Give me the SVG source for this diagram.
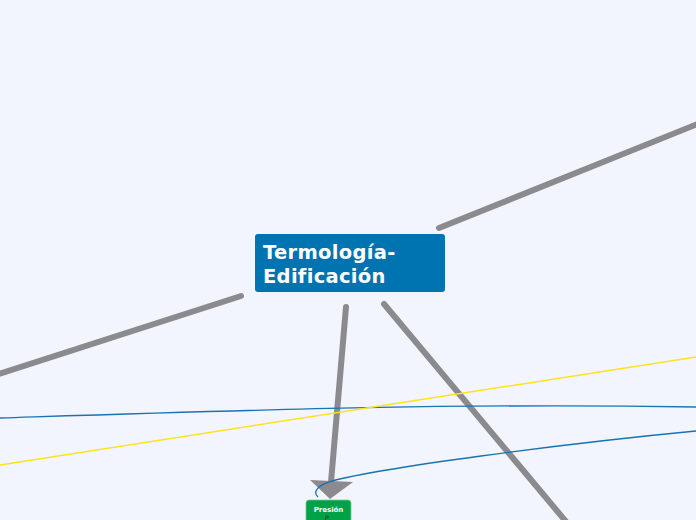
<svg xmlns="http://www.w3.org/2000/svg" width="696" height="520" viewBox="0 0 696 520">
<style>
.trunk{stroke:#8b8b8f;stroke-width:6;stroke-linecap:round;fill:none}
.blue{stroke:#1a73b0;stroke-width:1.3;fill:none}
.yellow{stroke:#ffe31a;stroke-width:1.5;fill:none}
.t{font-family:"DejaVu Sans",Verdana,sans-serif;font-weight:bold}
</style>
<rect width="696" height="520" fill="#f2f5fe"/>
<g id="connectors">
<line class="trunk" x1="439" y1="228" x2="700" y2="123"/>
<line class="trunk" x1="241" y1="296" x2="-4" y2="375"/>
<line class="trunk" x1="346" y1="307" x2="331" y2="482"/>
<polygon points="310,480 353,482 330,499" fill="#8b8b8f"/>
<line class="trunk" x1="384" y1="304" x2="568" y2="524"/>
<path class="blue" d="M0,418 C250,410 450,403 696,407"/>
<path class="blue" d="M696,431 C560,444 380,468 332,481 C318,485 312,492 318,497"/>
<path class="yellow" d="M0,465 L696,357"/>
</g>
<g id="node-main">
<rect x="255" y="234" width="190" height="58" rx="3" fill="#0073b1"/>
<text class="t" x="263" y="259" font-size="19.5" letter-spacing="0.3" fill="#ffffff">Termología-</text>
<text class="t" x="263" y="283" font-size="19.5" letter-spacing="0.3" fill="#ffffff">Edificación</text>
</g>
<g id="node-presion">
<rect x="306" y="500" width="45" height="26" rx="3" fill="#00a147" stroke="#6fd08e" stroke-width="0.8"/>
<text class="t" x="328.5" y="511.5" font-size="7" fill="#ffffff" text-anchor="middle">Presión</text>
<text x="325" y="520" font-size="6" font-family="DejaVu Sans,sans-serif" font-style="italic" fill="#111111">P</text>
</g>
</svg>
